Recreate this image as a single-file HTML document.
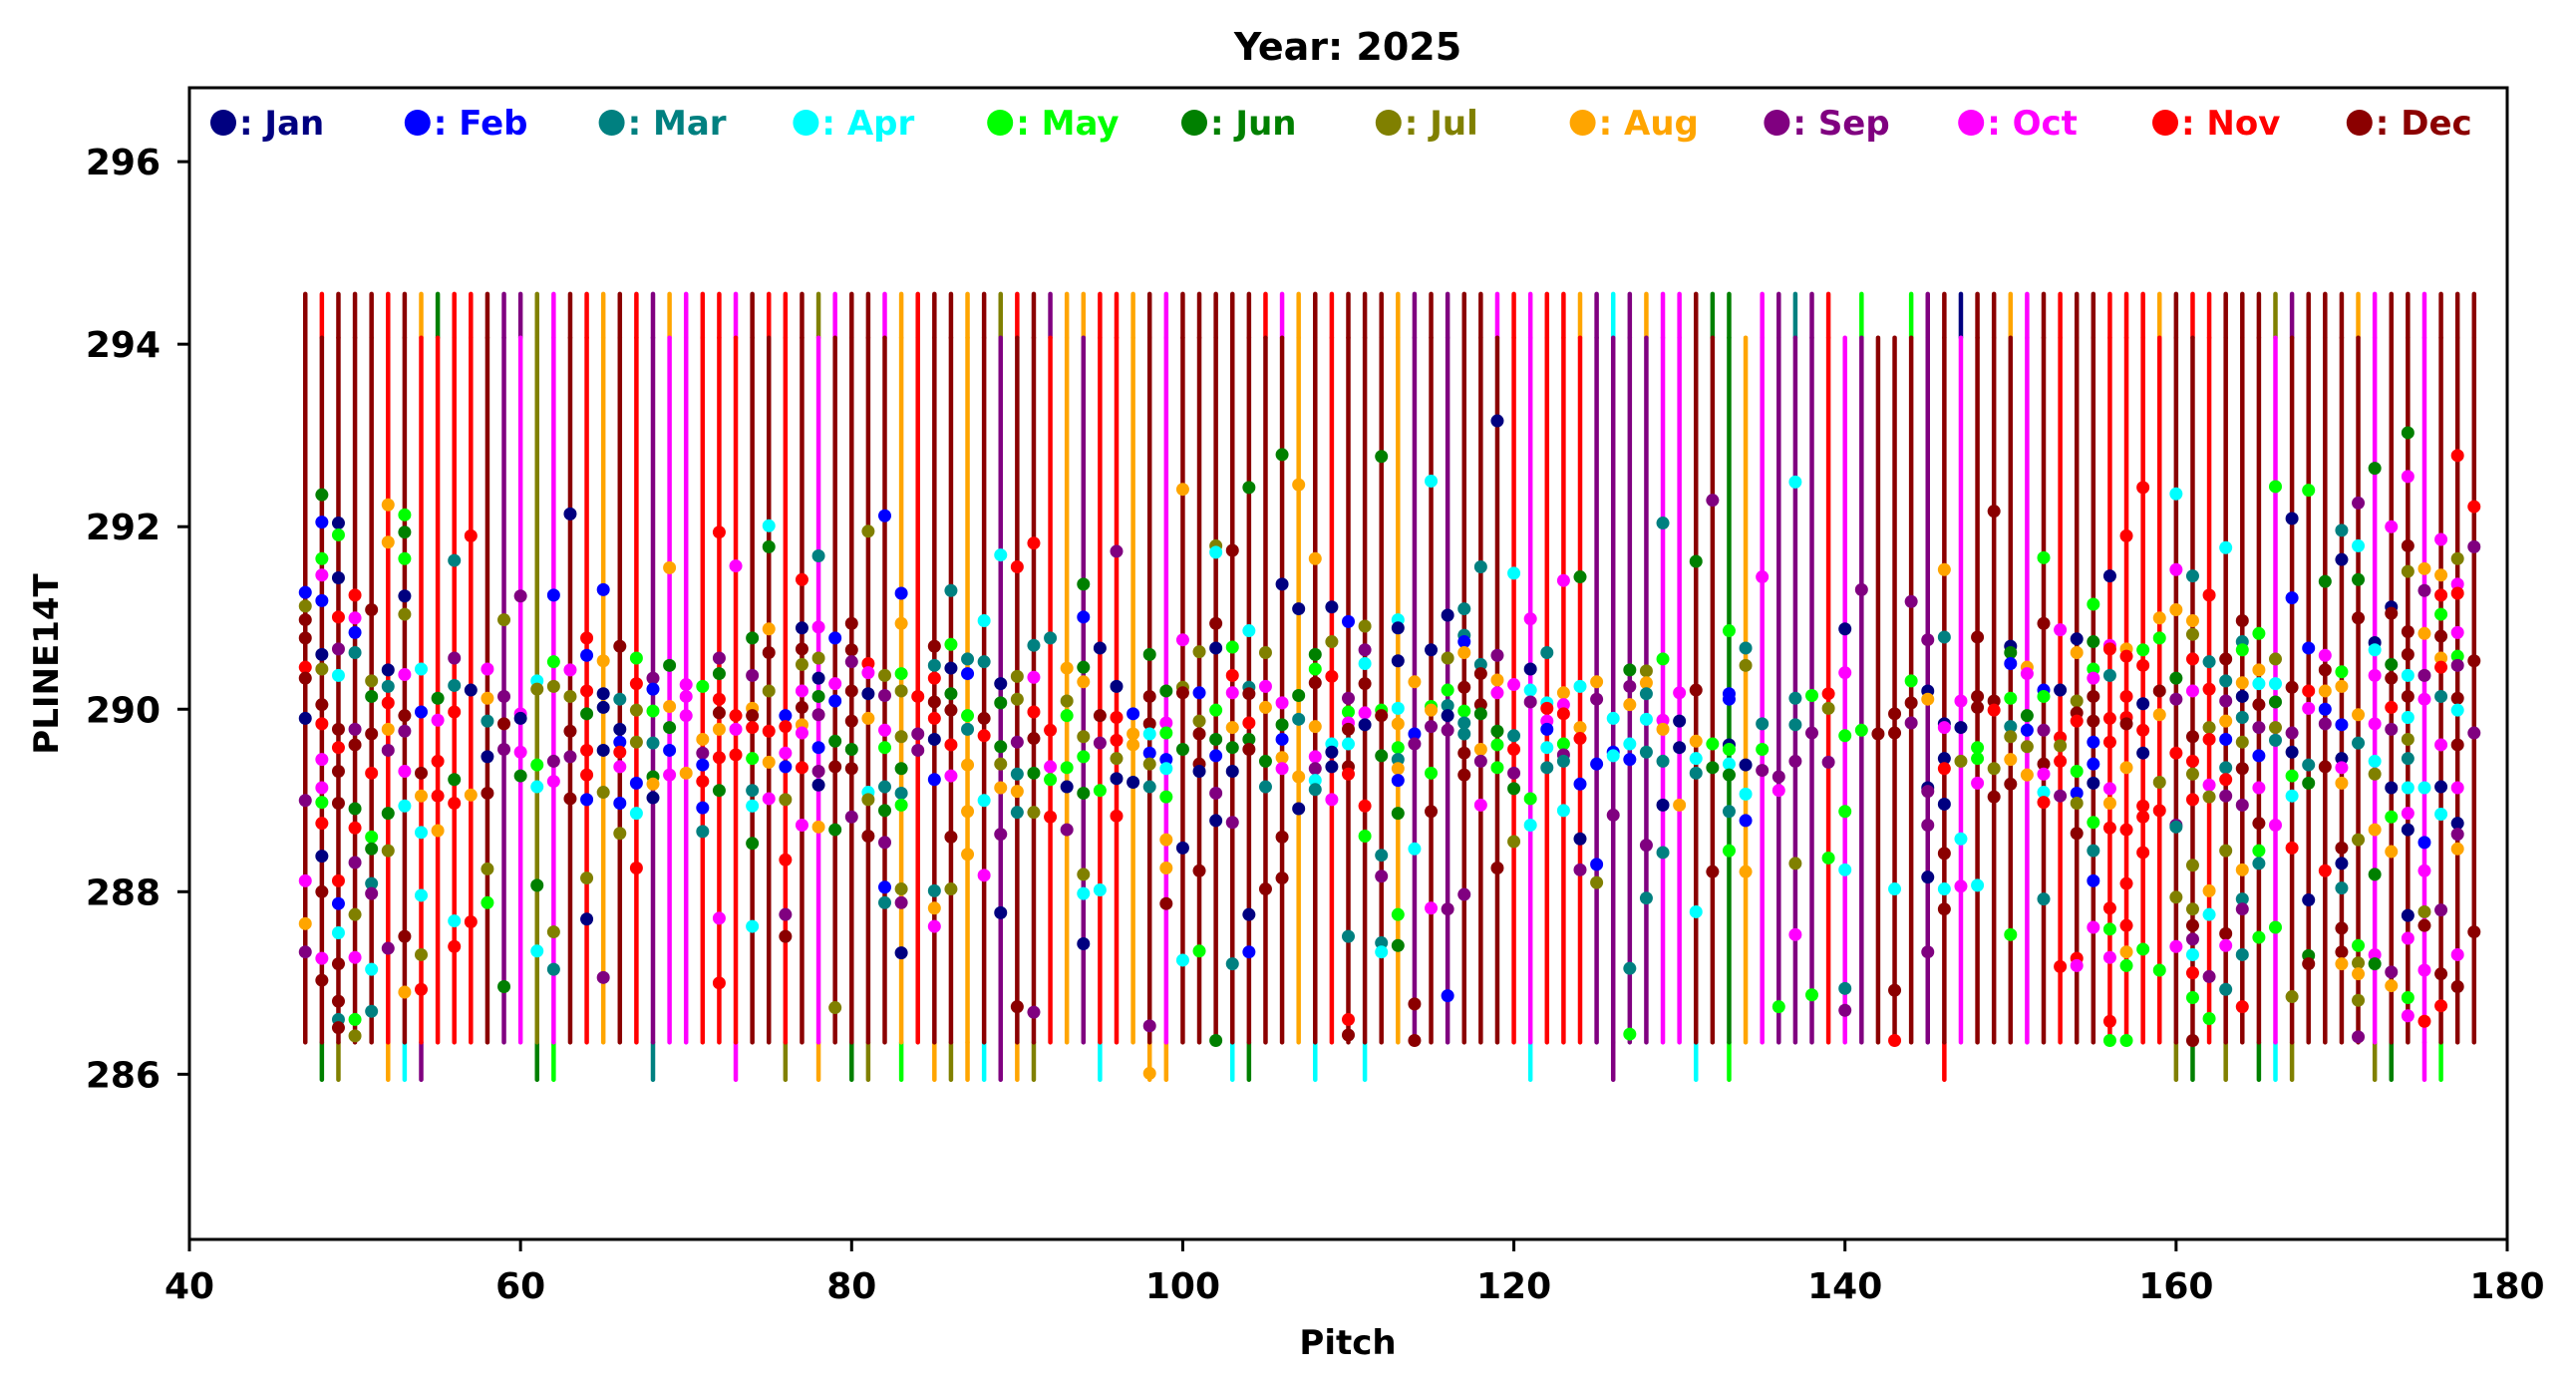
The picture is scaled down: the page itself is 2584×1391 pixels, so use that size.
<!DOCTYPE html>
<html>
<head>
<meta charset="utf-8">
<style>
  html,body{margin:0;padding:0;background:#fff;}
  #wrap{width:2584px;height:1391px;position:relative;overflow:hidden;}
  svg text{font-family:"DejaVu Sans","Liberation Sans",sans-serif;font-weight:bold;}
</style>
</head>
<body>
<div id="wrap">
<svg id="chart" width="2584" height="1391" viewBox="0 0 2584 1391" xmlns="http://www.w3.org/2000/svg">
  <rect x="0" y="0" width="2584" height="1391" fill="#fff"/>
  <text x="1352" y="60" font-size="38" text-anchor="middle" fill="#000">Year: 2025</text>
  <g id="lines"></g>
  <g id="points"></g>
  <rect x="190" y="88" width="2325" height="1155" fill="none" stroke="#000" stroke-width="3"/>
  <g id="xaxis"></g>
  <g id="yaxis"></g>
  <g id="legend"></g>
  <text x="1352" y="1358" font-size="34" text-anchor="middle" fill="#000">Pitch</text>
  <text x="58" y="666" font-size="34" text-anchor="middle" fill="#000" transform="rotate(-90 58 666)">PLINE14T</text>
</svg>
</div>
<script>
const monthNames = ["Jan","Feb","Mar","Apr","May","Jun","Jul","Aug","Sep","Oct","Nov","Dec"];
const monthColors = ["#000080","#0000ff","#008080","#00ffff","#00ff00","#008000","#808000","#ffa500","#800080","#ff00ff","#ff0000","#8b0000"];
const xTicks = [40,60,80,100,120,140,160,180];
const yTicks = [286,288,290,292,294,296];
const firstPitch = 47;
const longRange = [286.35, 294.55];
const shortRange = [285.94, 294.07];
// per pitch 47..178: month of top segment, main body, low extension (-1 = none)
const lineTopMonth = [11,10,11,11,11,10,11,7,5,10,10,11,8,8,6,9,11,10,7,11,10,8,7,9,10,10,9,11,10,10,11,6,9,
11,11,9,7,10,11,11,7,11,6,10,11,8,7,7,10,10,7,11,9,11,11,11,11,11,10,9,7,11,10,11,11,11,7,
8,11,8,11,11,9,10,9,10,10,7,8,3,8,7,9,9,11,5,5,-1,9,8,2,8,10,-1,4,-1,-1,4,8,11,0,
11,11,7,9,11,10,11,11,10,10,10,7,11,10,10,11,11,11,6,8,11,11,11,7,9,11,11,9,11,11,11];
const lineBodyMonth = [11,11,11,11,11,10,11,10,10,10,10,11,8,9,6,9,11,10,7,11,10,8,9,9,10,10,10,11,11,10,11,9,11,
11,11,11,7,10,11,11,7,11,8,11,11,10,7,8,10,10,7,11,9,11,11,11,11,11,11,11,7,11,10,11,11,11,7,
8,11,8,11,11,11,10,9,10,10,10,8,8,8,8,9,9,11,11,5,7,9,8,8,8,10,9,8,11,11,11,8,11,9,
11,11,11,9,11,10,11,11,10,10,10,10,11,11,10,11,11,11,9,11,11,11,11,11,9,11,11,9,11,11,11];
const lineLowMonth = [-1,5,6,-1,-1,7,3,8,-1,-1,-1,-1,-1,-1,5,4,-1,-1,-1,-1,-1,2,-1,-1,-1,-1,9,-1,-1,6,-1,7,-1,
5,6,-1,4,-1,7,6,7,3,8,7,6,-1,-1,-1,3,-1,-1,7,7,-1,-1,-1,3,5,-1,-1,-1,3,-1,-1,3,-1,-1,
-1,-1,-1,-1,-1,-1,-1,3,-1,-1,-1,-1,8,-1,-1,-1,-1,3,-1,4,-1,-1,-1,-1,-1,-1,-1,-1,-1,-1,-1,-1,10,-1,
-1,-1,-1,-1,-1,-1,-1,-1,-1,-1,-1,-1,6,5,-1,6,-1,5,3,6,-1,-1,-1,-1,6,5,-1,9,4,-1,-1];
// points per pitch column: [monthIndex, value]
const columnPoints = [
/*47*/[[1,291.28],[6,291.13],[11,290.98],[11,290.78],[10,290.46],[11,290.34],[0,289.9],[8,289.0],[9,288.12],[7,287.65],[8,287.34]],
/*48*/[[5,292.35],[1,292.05],[4,291.65],[9,291.47],[1,291.19],[0,290.6],[6,290.44],[11,290.05],[10,289.84],[9,289.45],[9,289.14],[4,288.98],[10,288.75],[0,288.39],[11,288.0],[9,287.27],[11,287.03]],
/*49*/[[0,292.04],[4,291.91],[0,291.44],[10,291.01],[8,290.66],[3,290.37],[11,289.78],[10,289.58],[11,289.32],[11,288.97],[10,288.12],[1,287.87],[3,287.55],[11,287.21],[11,286.8],[2,286.6],[11,286.51]],
/*50*/[[10,291.25],[9,291.0],[1,290.84],[2,290.62],[8,289.78],[11,289.61],[5,288.91],[10,288.7],[8,288.32],[6,287.75],[9,287.28],[4,286.6],[6,286.42]],
/*51*/[[11,291.09],[6,290.31],[5,290.14],[11,289.73],[10,289.3],[4,288.6],[5,288.47],[2,288.09],[8,287.98],[3,287.15],[2,286.69]],
/*52*/[[7,292.24],[7,291.83],[0,290.43],[2,290.25],[10,290.07],[7,289.78],[8,289.55],[5,288.86],[6,288.45],[8,287.38]],
/*53*/[[4,292.13],[5,291.94],[4,291.65],[0,291.24],[6,291.04],[9,290.38],[11,289.93],[8,289.76],[9,289.32],[3,288.94],[11,287.51],[7,286.9]],
/*54*/[[3,290.44],[1,289.97],[11,289.3],[7,289.05],[3,288.65],[3,287.96],[6,287.31],[10,286.93]],
/*55*/[[5,290.12],[9,289.88],[10,289.43],[10,289.05],[7,288.67]],
/*56*/[[2,291.63],[8,290.56],[2,290.26],[10,289.97],[5,289.23],[10,288.97],[3,287.68],[10,287.4]],
/*57*/[[10,291.9],[0,290.21],[7,289.06],[10,287.67]],
/*58*/[[9,290.44],[7,290.12],[2,289.87],[0,289.48],[11,289.08],[6,288.25],[4,287.88]],
/*59*/[[6,290.98],[8,290.14],[11,289.84],[8,289.56],[5,286.96]],
/*60*/[[8,291.24],[9,289.95],[0,289.9],[9,289.53],[5,289.27]],
/*61*/[[3,290.31],[6,290.22],[4,289.39],[3,289.15],[5,288.07],[3,287.35]],
/*62*/[[1,291.25],[4,290.52],[6,290.25],[8,289.43],[9,289.21],[6,287.56],[2,287.15]],
/*63*/[[0,292.14],[9,290.43],[6,290.14],[11,289.76],[8,289.48],[11,289.02]],
/*64*/[[10,290.78],[1,290.59],[10,290.2],[5,289.95],[10,289.55],[10,289.28],[1,289.01],[6,288.15],[0,287.7]],
/*65*/[[1,291.31],[7,290.53],[0,290.17],[0,290.02],[0,289.55],[6,289.09],[8,287.06]],
/*66*/[[11,290.69],[2,290.11],[0,289.78],[1,289.64],[10,289.53],[9,289.37],[1,288.97],[6,288.64]],
/*67*/[[4,290.56],[10,290.28],[6,289.99],[6,289.64],[1,289.19],[3,288.86],[10,288.26]],
/*68*/[[8,290.34],[1,290.22],[4,289.98],[2,289.63],[5,289.26],[7,289.18],[0,289.03]],
/*69*/[[7,291.55],[5,290.48],[7,290.03],[5,289.8],[1,289.55],[9,289.28]],
/*70*/[[9,290.27],[9,290.14],[9,289.93],[7,289.3]],
/*71*/[[4,290.25],[7,289.67],[8,289.52],[1,289.39],[10,289.21],[1,288.92],[2,288.66]],
/*72*/[[10,291.94],[8,290.56],[5,290.39],[10,290.11],[11,289.96],[7,289.78],[10,289.47],[5,289.11],[9,287.71],[10,287.0]],
/*73*/[[9,291.57],[10,289.93],[9,289.78],[10,289.5]],
/*74*/[[5,290.78],[8,290.37],[7,290.01],[11,289.93],[10,289.8],[4,289.46],[2,289.11],[3,288.94],[5,288.53],[3,287.62]],
/*75*/[[3,292.01],[5,291.78],[7,290.88],[11,290.62],[6,290.2],[10,289.76],[7,289.42],[9,289.02]],
/*76*/[[1,289.93],[10,289.81],[9,289.52],[1,289.37],[6,289.01],[10,288.35],[8,287.75],[11,287.51]],
/*77*/[[10,291.42],[0,290.89],[11,290.66],[6,290.49],[9,290.2],[11,290.02],[7,289.83],[9,289.74],[10,289.36],[9,288.73]],
/*78*/[[2,291.68],[9,290.9],[6,290.56],[0,290.34],[5,290.14],[8,289.94],[1,289.58],[8,289.32],[0,289.17],[7,288.71]],
/*79*/[[1,290.78],[9,290.28],[1,290.09],[5,289.65],[11,289.37],[5,288.68],[6,286.73]],
/*80*/[[11,290.94],[11,290.65],[8,290.52],[11,290.2],[11,289.87],[5,289.56],[11,289.35],[8,288.82]],
/*81*/[[6,291.95],[10,290.5],[9,290.4],[0,290.17],[7,289.9],[3,289.09],[6,289.01],[11,288.61]],
/*82*/[[1,292.12],[6,290.37],[8,290.15],[9,289.77],[4,289.58],[2,289.15],[5,288.89],[8,288.54],[1,288.05],[2,287.88]],
/*83*/[[1,291.27],[7,290.94],[4,290.39],[6,290.2],[6,289.7],[5,289.35],[2,289.08],[4,288.95],[6,288.03],[8,287.88],[0,287.33]],
/*84*/[[10,290.14],[8,289.73],[8,289.55]],
/*85*/[[11,290.69],[2,290.48],[10,290.34],[11,290.08],[10,289.9],[0,289.67],[1,289.23],[2,288.01],[7,287.82],[9,287.62]],
/*86*/[[2,291.3],[4,290.71],[0,290.45],[5,290.17],[11,289.99],[10,289.61],[9,289.27],[11,288.6],[6,288.03]],
/*87*/[[2,290.55],[1,290.39],[4,289.93],[2,289.78],[7,289.39],[7,288.88],[7,288.41]],
/*88*/[[3,290.97],[2,290.52],[11,289.9],[10,289.71],[3,289.0],[9,288.18]],
/*89*/[[3,291.69],[0,290.28],[5,290.07],[5,289.59],[6,289.4],[7,289.14],[8,288.63],[0,287.77]],
/*90*/[[10,291.56],[6,290.36],[6,290.11],[8,289.64],[2,289.29],[7,289.1],[2,288.87],[11,286.74]],
/*91*/[[10,291.82],[2,290.7],[9,290.35],[10,289.97],[11,289.68],[5,289.3],[6,288.87],[8,286.68]],
/*92*/[[2,290.78],[10,289.77],[9,289.37],[4,289.23],[10,288.82]],
/*93*/[[7,290.45],[6,290.09],[4,289.93],[4,289.36],[0,289.15],[8,288.68]],
/*94*/[[5,291.37],[1,291.01],[5,290.46],[7,290.3],[6,289.7],[4,289.48],[5,289.08],[6,288.19],[3,287.98],[0,287.43]],
/*95*/[[0,290.67],[11,289.93],[8,289.63],[4,289.11],[3,288.02]],
/*96*/[[8,291.73],[0,290.25],[10,289.91],[10,289.66],[6,289.46],[0,289.24],[10,288.83]],
/*97*/[[1,289.95],[7,289.73],[7,289.61],[0,289.2]],
/*98*/[[5,290.6],[11,290.14],[11,289.84],[3,289.73],[1,289.52],[6,289.4],[2,289.15],[8,286.53],[7,286.01]],
/*99*/[[5,290.2],[9,289.85],[4,289.74],[1,289.45],[3,289.35],[4,289.04],[7,288.57],[7,288.26],[11,287.87]],
/*100*/[[7,292.41],[9,290.76],[6,290.24],[11,290.18],[5,289.56],[0,288.48],[3,287.25]],
/*101*/[[6,290.63],[1,290.18],[6,289.87],[11,289.73],[11,289.4],[0,289.32],[11,288.23],[4,287.35]],
/*102*/[[6,291.79],[3,291.72],[11,290.94],[0,290.67],[4,289.99],[5,289.67],[1,289.49],[8,289.08],[0,288.78],[5,286.37]],
/*103*/[[11,291.74],[4,290.68],[10,290.37],[9,290.18],[7,289.8],[5,289.58],[0,289.32],[8,288.76],[2,287.21]],
/*104*/[[5,292.43],[3,290.86],[2,290.24],[11,290.17],[10,289.85],[5,289.67],[11,289.56],[0,287.75],[1,287.34]],
/*105*/[[6,290.62],[9,290.25],[7,290.02],[5,289.43],[2,289.15],[11,288.03]],
/*106*/[[5,292.79],[0,291.37],[9,290.07],[5,289.83],[1,289.67],[7,289.47],[9,289.35],[11,288.6],[11,288.15]],
/*107*/[[7,292.46],[0,291.1],[5,290.15],[2,289.89],[7,289.26],[0,288.91]],
/*108*/[[7,291.65],[5,290.6],[4,290.44],[11,290.29],[7,289.81],[9,289.48],[8,289.35],[3,289.22],[2,289.12]],
/*109*/[[0,291.12],[6,290.74],[10,290.36],[3,289.62],[0,289.53],[0,289.37],[9,289.01]],
/*110*/[[1,290.96],[8,290.12],[4,289.97],[9,289.85],[11,289.78],[3,289.62],[11,289.37],[10,289.29],[2,287.51],[10,286.6],[11,286.43]],
/*111*/[[6,290.91],[8,290.65],[3,290.5],[11,290.28],[9,289.96],[0,289.83],[10,288.94],[4,288.61]],
/*112*/[[5,292.77],[4,289.99],[11,289.93],[5,289.49],[2,288.4],[8,288.17],[2,287.44],[3,287.34]],
/*113*/[[3,290.98],[0,290.89],[0,290.53],[3,290.01],[7,289.84],[4,289.58],[2,289.45],[7,289.35],[1,289.22],[5,288.86],[4,287.75],[5,287.41]],
/*114*/[[7,290.3],[1,289.73],[8,289.62],[3,288.47],[11,286.77],[11,286.37]],
/*115*/[[3,292.5],[0,290.65],[4,290.03],[7,289.99],[8,289.81],[4,289.3],[11,288.88],[9,287.82]],
/*116*/[[0,291.03],[6,290.56],[4,290.21],[2,290.04],[0,289.93],[8,289.77],[8,287.81],[1,286.86]],
/*117*/[[2,291.1],[2,290.81],[1,290.74],[7,290.62],[11,290.24],[4,289.98],[2,289.85],[2,289.73],[11,289.52],[11,289.28],[8,287.97]],
/*118*/[[2,291.56],[2,290.49],[11,290.39],[11,290.05],[5,289.95],[7,289.56],[8,289.43],[9,288.95]],
/*119*/[[0,293.16],[8,290.59],[7,290.32],[9,290.18],[5,289.76],[4,289.61],[4,289.36],[11,288.26]],
/*120*/[[3,291.49],[9,290.27],[2,289.71],[10,289.56],[8,289.3],[5,289.13],[6,288.55]],
/*121*/[[9,290.99],[0,290.44],[3,290.21],[8,290.08],[4,289.02],[3,288.73]],
/*122*/[[2,290.62],[3,290.07],[10,290.01],[9,289.87],[1,289.78],[3,289.58],[2,289.36]],
/*123*/[[9,291.41],[7,290.18],[9,290.05],[10,289.95],[4,289.62],[8,289.5],[2,289.43],[3,288.89]],
/*124*/[[5,291.45],[3,290.25],[7,289.8],[10,289.68],[1,289.18],[0,288.58],[8,288.24]],
/*125*/[[7,290.3],[8,290.11],[1,289.4],[1,288.3],[6,288.1]],
/*126*/[[3,289.9],[1,289.53],[3,289.49],[8,288.84]],
/*127*/[[5,290.43],[8,290.25],[7,290.05],[3,289.62],[1,289.45],[2,287.16],[4,286.44]],
/*128*/[[6,290.42],[7,290.29],[2,290.17],[3,289.89],[2,289.53],[8,288.51],[2,287.93]],
/*129*/[[2,292.04],[4,290.55],[9,289.88],[7,289.78],[2,289.43],[0,288.95],[2,288.43]],
/*130*/[[9,290.18],[0,289.87],[0,289.58],[7,288.95]],
/*131*/[[5,291.62],[11,290.21],[7,289.65],[3,289.46],[2,289.3],[3,287.78]],
/*132*/[[8,292.29],[4,289.62],[5,289.36],[11,288.22]],
/*133*/[[4,290.86],[1,290.17],[1,290.11],[0,289.61],[4,289.56],[3,289.4],[5,289.28],[2,288.88],[4,288.45]],
/*134*/[[2,290.67],[6,290.48],[0,289.39],[3,289.07],[1,288.78],[7,288.22]],
/*135*/[[9,291.45],[2,289.84],[4,289.56],[8,289.33]],
/*136*/[[8,289.26],[9,289.11],[4,286.74]],
/*137*/[[3,292.49],[2,290.12],[2,289.83],[8,289.43],[6,288.31],[9,287.53]],
/*138*/[[4,290.15],[8,289.74],[4,286.87]],
/*139*/[[10,290.17],[6,290.01],[8,289.42],[4,288.37]],
/*140*/[[0,290.88],[9,290.4],[4,289.71],[4,288.88],[3,288.24],[2,286.94],[8,286.7]],
/*141*/[[8,291.31],[4,289.77]],
/*142*/[[11,289.73]],
/*143*/[[11,289.95],[11,289.74],[3,288.03],[11,286.92],[10,286.37]],
/*144*/[[8,291.18],[4,290.31],[11,290.07],[8,289.85]],
/*145*/[[8,290.76],[0,290.2],[7,290.11],[0,289.14],[8,289.1],[8,288.73],[0,288.16],[8,287.34]],
/*146*/[[7,291.53],[2,290.79],[0,289.84],[9,289.8],[0,289.46],[10,289.35],[0,288.96],[11,288.42],[3,288.03],[11,287.81]],
/*147*/[[9,290.09],[0,289.8],[6,289.43],[3,288.58],[9,288.06]],
/*148*/[[11,290.79],[11,290.14],[11,290.02],[4,289.58],[4,289.46],[9,289.19],[3,288.07]],
/*149*/[[11,292.17],[11,290.09],[10,289.99],[6,289.35],[11,289.04]],
/*150*/[[0,290.69],[5,290.62],[1,290.5],[4,290.12],[2,289.81],[6,289.7],[7,289.45],[11,289.18],[4,287.53]],
/*151*/[[7,290.46],[9,290.39],[5,289.93],[1,289.77],[6,289.59],[7,289.28]],
/*152*/[[4,291.66],[11,290.94],[1,290.21],[4,290.14],[8,289.77],[11,289.4],[9,289.29],[3,289.09],[10,288.98],[2,287.92]],
/*153*/[[9,290.87],[0,290.21],[10,289.69],[6,289.6],[10,289.43],[8,289.05],[10,287.18]],
/*154*/[[0,290.77],[7,290.62],[6,290.09],[11,289.96],[10,289.87],[4,289.32],[1,289.08],[6,288.97],[11,288.64],[10,287.27],[9,287.19]],
/*155*/[[4,291.15],[5,290.74],[4,290.44],[9,290.34],[11,290.14],[11,289.87],[1,289.64],[1,289.4],[0,289.19],[4,288.76],[2,288.45],[1,288.12],[9,287.61]],
/*156*/[[0,291.46],[9,290.7],[10,290.66],[2,290.37],[10,289.9],[10,289.64],[9,289.13],[7,288.97],[10,288.7],[10,287.82],[4,287.59],[9,287.28],[10,286.58],[4,286.37]],
/*157*/[[10,291.9],[7,290.66],[10,290.58],[10,290.14],[10,289.91],[11,289.84],[7,289.36],[10,288.68],[10,288.09],[10,287.63],[7,287.34],[4,287.19],[4,286.37]],
/*158*/[[10,292.43],[4,290.65],[10,290.48],[0,290.06],[10,289.77],[0,289.52],[10,288.94],[10,288.82],[10,288.43],[4,287.37]],
/*159*/[[7,291.0],[4,290.78],[11,290.2],[7,289.94],[6,289.2],[10,288.89],[4,287.14]],
/*160*/[[3,292.36],[9,291.53],[7,291.09],[5,290.34],[8,290.11],[10,289.52],[8,288.73],[2,288.71],[6,287.94],[9,287.4]],
/*161*/[[2,291.46],[7,290.97],[6,290.82],[10,290.55],[9,290.2],[11,289.7],[10,289.43],[6,289.29],[10,289.01],[6,288.29],[6,287.81],[11,287.63],[8,287.48],[3,287.31],[10,287.11],[4,286.84],[11,286.37]],
/*162*/[[10,291.25],[2,290.52],[10,290.22],[6,289.8],[10,289.67],[9,289.17],[6,289.04],[7,288.01],[3,287.75],[8,287.07],[4,286.61]],
/*163*/[[3,291.77],[11,290.55],[2,290.31],[8,290.09],[7,289.87],[1,289.67],[2,289.36],[10,289.23],[8,289.05],[6,288.45],[11,287.54],[9,287.41],[2,286.93]],
/*164*/[[11,290.97],[2,290.74],[4,290.65],[7,290.29],[0,290.14],[2,289.91],[6,289.64],[11,289.35],[8,288.95],[7,288.24],[2,287.92],[8,287.81],[2,287.31],[10,286.74]],
/*165*/[[4,290.83],[7,290.43],[3,290.28],[11,290.05],[8,289.8],[1,289.49],[9,289.14],[11,288.75],[4,288.45],[2,288.31],[4,287.5]],
/*166*/[[4,292.44],[6,290.55],[3,290.28],[5,290.08],[6,289.8],[2,289.66],[9,288.73],[4,287.61]],
/*167*/[[0,292.09],[1,291.22],[11,290.24],[8,289.74],[0,289.53],[4,289.27],[3,289.05],[10,288.48],[6,286.85]],
/*168*/[[4,292.4],[1,290.67],[10,290.2],[9,290.01],[2,289.39],[5,289.19],[0,287.91],[5,287.3],[11,287.21]],
/*169*/[[5,291.4],[9,290.59],[11,290.43],[7,290.2],[1,290.0],[8,289.84],[11,289.37],[10,288.23]],
/*170*/[[2,291.96],[0,291.64],[4,290.41],[7,290.25],[1,289.83],[0,289.46],[9,289.36],[7,289.19],[11,288.48],[0,288.31],[2,288.04],[11,287.6],[11,287.34],[7,287.21]],
/*171*/[[8,292.26],[3,291.79],[5,291.42],[11,291.0],[7,289.94],[2,289.63],[6,288.57],[4,287.41],[6,287.22],[7,287.1],[6,286.81],[8,286.41]],
/*172*/[[5,292.64],[0,290.73],[3,290.65],[9,290.37],[9,289.84],[3,289.43],[6,289.29],[7,288.68],[5,288.19],[9,287.31],[5,287.21]],
/*173*/[[9,292.0],[0,291.12],[11,291.05],[5,290.49],[11,290.34],[10,290.02],[8,289.78],[0,289.14],[4,288.82],[7,288.44],[8,287.12],[7,286.97]],
/*174*/[[5,293.03],[9,292.55],[11,291.79],[6,291.51],[11,290.85],[11,290.6],[3,290.37],[11,290.14],[3,289.91],[6,289.67],[2,289.46],[3,289.14],[9,288.86],[0,288.68],[0,287.74],[9,287.49],[4,286.84],[9,286.64]],
/*175*/[[7,291.54],[8,291.3],[7,290.83],[8,290.37],[9,290.11],[3,289.14],[1,288.54],[9,288.23],[6,287.78],[11,287.63],[9,287.14],[10,286.58]],
/*176*/[[9,291.86],[7,291.47],[10,291.25],[4,291.04],[11,290.8],[7,290.56],[10,290.46],[2,290.14],[9,289.61],[0,289.15],[3,288.85],[8,287.8],[11,287.1],[10,286.75]],
/*177*/[[10,292.78],[6,291.65],[9,291.37],[10,291.27],[9,290.84],[4,290.58],[8,290.48],[11,290.12],[3,289.99],[11,289.61],[9,289.14],[0,288.75],[8,288.63],[7,288.47],[9,287.31],[11,286.96]],
/*178*/[[10,292.22],[8,291.78],[11,290.53],[8,289.74],[11,287.56]]
];

const X0 = 190, X1 = 2515, Y0 = 88, Y1 = 1243;
const xMin = 40, xMax = 180, yMin = 284.19, yMax = 296.81;
function xScale(v){ return X0 + (v - xMin) / (xMax - xMin) * (X1 - X0); }
function yScale(v){ return Y1 - (v - yMin) / (yMax - yMin) * (Y1 - Y0); }
const NS = "http://www.w3.org/2000/svg";
function mk(tag, attrs, parent){
  const el = document.createElementNS(NS, tag);
  for (const k in attrs) el.setAttribute(k, attrs[k]);
  parent.appendChild(el);
  return el;
}

// lines
const gL = document.getElementById('lines');
function seg(x, a, b, m, name){
  const l = mk('line', {x1:x, x2:x, y1:yScale(a), y2:yScale(b), stroke:monthColors[m], 'stroke-width':4.5, 'stroke-linecap':'round'}, gL);
  
  
}
for (let i = 0; i < lineBodyMonth.length; i++){
  const p = firstPitch + i;
  const x = xScale(p);
  if (lineLowMonth[i] >= 0) seg(x, shortRange[0], longRange[0], lineLowMonth[i], 'line-low-' + p);
  if (lineTopMonth[i] >= 0) seg(x, shortRange[1], longRange[1], lineTopMonth[i], 'line-top-' + p);
  seg(x, longRange[0], shortRange[1], lineBodyMonth[i], 'line-body-' + p);
}

// points
const gP = document.getElementById('points');
for (let i = 0; i < columnPoints.length; i++){
  const p = firstPitch + i;
  const pts = columnPoints[i];
  for (let j = 0; j < pts.length; j++){
    const c = mk('circle', {cx:xScale(p), cy:yScale(pts[j][1]), r:6.5, fill:monthColors[pts[j][0]]}, gP);
    
    
  }
}

// x axis
const gX = document.getElementById('xaxis');
xTicks.forEach(t => {
  const x = xScale(t);
  const tk = mk('line', {x1:x, x2:x, y1:Y1, y2:Y1+12, stroke:'#000', 'stroke-width':3}, gX);
  
  
  const tx = mk('text', {x:x, y:1302, 'font-size':36, 'text-anchor':'middle', fill:'#000'}, gX);
  tx.textContent = t;
  
  
});
// y axis
const gY = document.getElementById('yaxis');
yTicks.forEach(t => {
  const y = yScale(t);
  const tk = mk('line', {x1:X0-12, x2:X0, y1:y, y2:y, stroke:'#000', 'stroke-width':3}, gY);
  
  
  const tx = mk('text', {x:161, y:y+13, 'font-size':36, 'text-anchor':'end', fill:'#000'}, gY);
  tx.textContent = t;
  
  
});
// legend
const gLeg = document.getElementById('legend');
monthNames.forEach((m, k) => {
  const cx = 224 + k * 194.8;
  const g = mk('g', {}, gLeg);
  
  
  const c = mk('circle', {cx:cx, cy:123, r:13, fill:monthColors[k]}, g);
  
  
  const tx = mk('text', {x:cx+16, y:135, 'font-size':34, fill:monthColors[k]}, g);
  tx.textContent = ': ' + m;
  
  
});
</script>
</body>
</html>
